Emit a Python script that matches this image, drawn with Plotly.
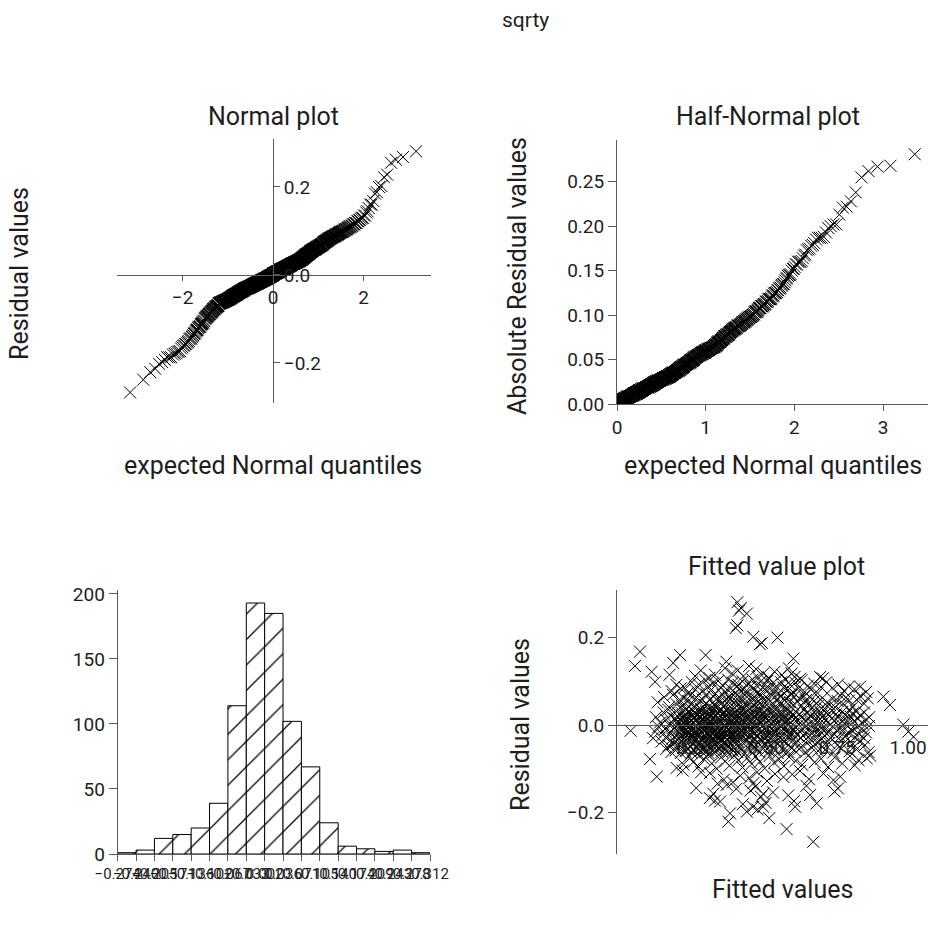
import plotly.graph_objects as go
from statistics import NormalDist

# ---------------- data ----------------
main_title = "sqrty"

# observations: (fitted value, residual) in thousandths, grouped by residual bin
obs_milli = [
    # bin [-0.274,-0.240]
    (666, -267),
    # bin [-0.240,-0.205]
    (572, -238), (367, -221), (511, -213),
    # bin [-0.205,-0.171]
    (373, -202), (432, -198), (454, -187), (489, -187), (602, -187), (678, -179),
    (338, -175), (470, -193), (498, -178), (418, -181), (598, -174), (320, -173),
    # bin [-0.171,-0.136]
    (302, -167), (655, -160), (314, -157), (490, -157), (753, -145), (361, -137),
    (445, -150), (482, -164), (395, -146), (524, -154), (642, -139), (741, -152),
    (254, -144), (578, -161), (462, -141),
    # bin [-0.136,-0.102]
    (737, -126), (302, -110), (115, -118), (206, -104), (351, -125), (383, -131),
    (409, -116), (441, -121), (468, -108), (503, -128), (531, -112), (561, -119),
    (619, -105), (702, -111), (761, -118), (329, -134), (271, -108), (455, -133),
    (651, -124), (592, -113),
    # bin [-0.102,-0.067]
    (91, -78), (185, -98), (825, -80), (854, -76), (209, -90), (228, -72), (243, -85),
    (262, -95), (281, -78), (297, -69), (309, -88), (326, -100), (342, -74), (356, -83),
    (371, -93), (388, -70), (402, -81), (417, -97), (433, -76), (449, -89), (463, -72),
    (478, -84), (495, -99), (512, -71), (528, -86), (546, -78), (563, -94), (581, -73),
    (604, -82), (627, -91), (648, -70), (671, -85), (694, -77), (718, -96), (742, -74),
    (768, -88), (795, -71), (812, -92), (866, -70),
    # bin [-0.067,-0.033]
    (132, -38), (148, -55), (157, -47), (166, -62), (174, -41), (181, -58), (188, -35),
    (193, -50), (171, -44), (199, -64),
    (203, -37), (207, -53), (212, -45), (216, -60), (221, -40), (225, -56), (229, -34),
    (234, -49), (238, -63), (241, -42), (246, -58), (250, -36), (253, -51), (257, -66),
    (262, -44), (266, -39), (270, -59), (273, -47), (277, -35), (281, -54), (285, -61),
    (288, -43), (291, -38), (294, -57), (297, -48), (299, -65),
    (302, -41), (306, -52), (311, -36), (315, -63), (319, -46), (323, -39), (327, -58),
    (332, -44), (336, -53), (340, -35), (344, -61), (348, -49), (352, -40), (357, -56),
    (361, -47), (365, -64), (370, -37), (374, -51), (378, -43), (383, -59), (387, -34),
    (391, -55), (395, -45), (399, -62),
    (403, -39), (409, -50), (414, -57), (420, -42), (426, -65), (431, -36), (437, -53),
    (442, -46), (448, -60), (454, -38), (459, -49), (465, -55), (471, -41), (476, -63),
    (482, -35), (488, -52), (493, -44), (498, -58),
    (504, -37), (511, -60), (518, -45), (526, -53), (533, -39), (541, -64), (548, -48),
    (556, -34), (563, -56), (571, -42), (578, -61), (586, -50), (593, -36), (599, -57),
    (606, -40), (617, -55), (628, -47), (639, -62), (650, -38), (661, -52), (672, -44),
    (683, -59), (692, -35), (699, -49),
    (708, -57), (722, -41), (736, -63), (751, -46), (765, -54), (779, -38), (794, -60),
    (806, -43), (818, -56), (829, -37), (848, -46), (861, -62),
    # bin [-0.033,0.002]
    (23, -13),
    (102, -30), (109, -15), (121, -4), (136, -22), (144, -9), (152, -28), (159, 0),
    (163, -17), (170, -31), (177, -6), (183, -24), (187, -12), (191, 1), (195, -19),
    (198, -27),
    (201, -8), (204, -25), (206, -2), (209, -16), (211, -30), (214, -11), (216, -21),
    (219, 0), (222, -33), (224, -14), (227, -5), (229, -27), (232, -18), (234, -1),
    (237, -23), (239, -10), (242, -31), (244, -7), (247, -20), (249, -13), (252, -29),
    (254, -3), (257, -17), (259, -26), (262, -9), (264, -22), (267, 1), (269, -15),
    (272, -32), (274, -6), (277, -19), (279, -12), (282, -28), (284, -4), (287, -24),
    (289, -8), (292, -16), (294, -30), (296, -2), (299, -21),
    (301, -14), (303, -27), (306, -3), (308, -20), (311, -9), (313, -31), (316, -17),
    (318, 0), (321, -24), (323, -11), (326, -29), (328, -6), (331, -19), (333, -2),
    (336, -26), (338, -13), (341, -32), (343, -8), (346, -22), (348, -15), (351, -1),
    (353, -28), (356, -10), (358, -18), (361, -33), (363, -5), (366, -23), (368, -12),
    (371, -30), (373, -7), (376, -16), (378, -25), (381, -4), (383, -21), (386, -11),
    (388, -28), (391, -1), (393, -19), (396, -9), (398, -24),
    (401, -21), (404, -6), (408, -29), (411, -13), (414, -2), (418, -25), (421, -17),
    (424, -9), (428, -32), (431, -4), (434, -19), (438, -27), (441, -11), (444, 0),
    (448, -23), (451, -15), (454, -7), (458, -30), (461, -18), (464, -3), (468, -26),
    (471, -12), (474, -20), (478, -8), (481, -31), (484, -16), (488, -1), (491, -24),
    (494, -10), (498, -28),
    (502, -12), (506, -26), (510, -4), (514, -19), (518, -31), (522, -8), (526, -22),
    (530, -15), (534, 0), (538, -28), (542, -10), (546, -18), (550, -3), (554, -24),
    (558, -33), (562, -7), (566, -20), (570, -13), (574, -29), (578, -1), (582, -17),
    (586, -25), (590, -6), (594, -21), (598, -11),
    (604, -5), (610, -23), (617, -14), (623, -30), (629, -9), (636, -19), (642, -2),
    (648, -27), (655, -12), (661, -20), (667, -32), (673, -7), (680, -16), (686, -25),
    (692, -3), (697, -18), (699, -11),
    (705, -24), (712, -8), (719, -17), (727, -29), (734, -3), (741, -21), (748, -12),
    (755, -31), (762, -6), (769, -15), (777, -26), (784, -1), (791, -19), (798, -10),
    (804, -13), (812, -28), (820, -5), (828, -21), (836, -9), (844, -30), (852, -17),
    (862, -2),
    (983, 1), (1001, -15), (1019, -27),
    # bin [0.002,0.036]
    (112, 18), (127, 6), (139, 29), (148, 12), (156, 35), (163, 22), (171, 4), (178, 15),
    (184, 31), (189, 9), (194, 25), (198, 14),
    (201, 11), (204, 27), (207, 5), (209, 19), (212, 33), (215, 8), (217, 23), (220, 14),
    (223, 3), (225, 30), (228, 17), (231, 7), (233, 26), (236, 12), (239, 35), (241, 21),
    (244, 4), (247, 16), (249, 29), (252, 9), (255, 24), (257, 13), (260, 32), (263, 6),
    (265, 20), (268, 28), (271, 10), (273, 34), (276, 15), (279, 3), (281, 25), (284, 18),
    (287, 8), (289, 31), (292, 13), (295, 22), (297, 5), (299, 27),
    (301, 20), (304, 7), (306, 31), (309, 14), (312, 4), (314, 25), (317, 17), (320, 35),
    (322, 10), (325, 22), (328, 3), (330, 28), (333, 13), (336, 33), (338, 8), (341, 19),
    (344, 26), (346, 5), (349, 15), (352, 30), (354, 11), (357, 23), (360, 2), (362, 34),
    (365, 18), (368, 9), (370, 27), (373, 6), (376, 21), (378, 32), (381, 12), (384, 24),
    (386, 4), (389, 16), (392, 29), (394, 10), (397, 35), (399, 19),
    (402, 16), (405, 29), (408, 5), (412, 22), (415, 12), (418, 34), (422, 8), (425, 25),
    (428, 18), (432, 3), (435, 31), (438, 14), (442, 21), (445, 7), (448, 27), (452, 11),
    (455, 35), (458, 19), (462, 4), (465, 24), (468, 15), (472, 30), (475, 9), (478, 20),
    (482, 33), (485, 6), (488, 26), (492, 13), (495, 28), (498, 17),
    (503, 24), (507, 9), (511, 32), (515, 15), (519, 4), (523, 27), (527, 19), (531, 12),
    (535, 35), (539, 6), (543, 22), (547, 29), (551, 14), (555, 3), (559, 26), (563, 17),
    (567, 33), (571, 8), (575, 21), (579, 11), (583, 30), (587, 5), (591, 18), (595, 25),
    (599, 13),
    (603, 31), (609, 12), (615, 24), (621, 5), (627, 19), (633, 34), (639, 9), (645, 27),
    (651, 15), (657, 22), (663, 3), (669, 29), (675, 17), (681, 8), (687, 33), (691, 13),
    (695, 26), (699, 20),
    (704, 14), (711, 28), (718, 6), (725, 21), (732, 33), (739, 10), (746, 25), (753, 17),
    (760, 4), (767, 30), (774, 12), (781, 23), (788, 8), (793, 35), (798, 19),
    (803, 26), (810, 9), (817, 31), (824, 15), (831, 22), (838, 4), (845, 29), (853, 12),
    (863, 18),
    # bin [0.036,0.071]
    (118, 52), (141, 64), (158, 41), (172, 69), (186, 47), (196, 58),
    (204, 44), (211, 61), (219, 38), (226, 55), (233, 67), (241, 49), (248, 40), (255, 63),
    (262, 53), (270, 37), (277, 58), (284, 46), (291, 70), (298, 42),
    (302, 57), (308, 39), (313, 66), (319, 48), (324, 41), (330, 62), (335, 53), (341, 37),
    (347, 70), (352, 45), (358, 59), (363, 50), (369, 64), (374, 42), (380, 55), (385, 68),
    (391, 47), (397, 60),
    (403, 49), (408, 63), (414, 40), (419, 56), (425, 69), (430, 44), (436, 52), (441, 38),
    (447, 65), (452, 58), (458, 46), (463, 61), (469, 37), (474, 54), (480, 67), (485, 43),
    (491, 59), (497, 50),
    (503, 62), (509, 41), (515, 55), (521, 68), (527, 47), (534, 38), (540, 60), (546, 51),
    (552, 66), (558, 44), (564, 57), (571, 39), (577, 64), (583, 53), (590, 70), (596, 46),
    (604, 69), (611, 53), (618, 61), (625, 44), (633, 66), (640, 57), (647, 48), (655, 63),
    (662, 40), (669, 55), (677, 50), (684, 45), (692, 58),
    (706, 38), (715, 52), (724, 46), (734, 60), (743, 41), (752, 55), (762, 67), (771, 49),
    (781, 63), (792, 56),
    (806, 42), (819, 58), (832, 66), (845, 49), (858, 61),
    (913, 65), (936, 46),
    # bin [0.071,0.105]
    (109, 99), (167, 78), (184, 92), (199, 84),
    (212, 86), (226, 74), (239, 98), (251, 81), (263, 93), (274, 77), (286, 103), (297, 88),
    (304, 79), (313, 95), (322, 72), (331, 101), (340, 85), (348, 90), (357, 76), (366, 104),
    (375, 83), (383, 97), (391, 74), (398, 89),
    (403, 92), (410, 78), (417, 100), (424, 84), (431, 73), (438, 96), (445, 88), (452, 104),
    (459, 80), (466, 91), (473, 75), (480, 99), (487, 86), (495, 82),
    (504, 101), (512, 83), (520, 94), (528, 77), (536, 89), (545, 72), (553, 98), (561, 86),
    (569, 104), (577, 80), (585, 92), (594, 76),
    (603, 97), (614, 84), (625, 103), (636, 76), (647, 90), (658, 81), (669, 95), (681, 73),
    (693, 87),
    (712, 98), (733, 85), (754, 93), (774, 78), (791, 88),
    (811, 82), (831, 88), (852, 76),
    # bin [0.105,0.140]
    (38, 135), (97, 122), (690, 110), (355, 130), (380, 118), (400, 125), (420, 112),
    (440, 135), (465, 128), (490, 118), (510, 108), (530, 122), (555, 115), (580, 130),
    (600, 110), (620, 106), (250, 112), (270, 125), (300, 108), (320, 115), (470, 110),
    (700, 107), (160, 115), (590, 118),
    # bin [0.140,0.174]
    (56, 168), (197, 160), (287, 160), (173, 142), (596, 152), (360, 145),
    # bin [0.174,0.209]
    (455, 202), (540, 200), (485, 188), (478, 185),
    # bin [0.209,0.243]
    (399, 228), (393, 222),
    # bin [0.243,0.278]
    (411, 268), (432, 255), (405, 262),
    # bin [0.278,0.312]
    (399, 281),
]

# histogram of the residuals as drawn in the reference
hist_edges = [-0.274, -0.2395, -0.2051, -0.1706, -0.1361, -0.1017, -0.0672, -0.0327,
              0.0018, 0.0362, 0.0707, 0.1052, 0.1397, 0.1741, 0.2086, 0.2431, 0.2775, 0.312]
hist_counts = [1, 3, 12, 15, 20, 39, 114, 193, 185, 102, 67, 24, 6, 4, 2, 3, 1]
hist_labels = ["\u22120.274", "\u22120.240", "\u22120.205", "\u22120.171", "\u22120.136",
               "\u22120.102", "\u22120.067", "\u22120.033", "0.002", "0.036", "0.071",
               "0.105", "0.140", "0.174", "0.209", "0.243", "0.278", "0.312"]

qq_xticks = [-2, 0, 2]
qq_yticks = [-0.2, 0.0, 0.2]
hn_xticks = [0, 1, 2, 3]
hn_yticks = [0.0, 0.05, 0.10, 0.15, 0.20, 0.25]
hist_yticks = [0, 50, 100, 150, 200]
fit_xticks = [0.25, 0.50, 0.75, 1.00]
fit_yticks = [-0.2, 0.0, 0.2]

# ---------------- derived series ----------------
fitted = [a / 1000 for a, _ in obs_milli]
resid = [b / 1000 for _, b in obs_milli]
n = len(resid)
nd = NormalDist()
r_sorted = sorted(resid)
qq_x = [nd.inv_cdf((i + 1 - 0.375) / (n + 0.25)) for i in range(n)]
a_sorted = sorted(abs(v) for v in resid)
hn_x = [nd.inv_cdf(0.5 + 0.5 * (i + 1 - 0.375) / (n + 0.25)) for i in range(n)]
hist_centers = [(hist_edges[i] + hist_edges[i + 1]) / 2 for i in range(len(hist_counts))]
hist_width = (hist_edges[-1] - hist_edges[0]) / len(hist_counts)

# ---------------- figure ----------------
W, H = 928, 933
FONT = "Roboto, Liberation Sans, sans-serif"
LINE = "#5a5a5a"
TXT = "#1e1e1e"
TS = 25


def fx(p):
    return p / W


def fy(p):
    return 1 - p / H


mk = dict(symbol="x-thin", size=12, line=dict(width=1, color="black"), color="black")

fig = go.Figure()
fig.add_trace(go.Scatter(x=qq_x, y=r_sorted, mode="markers", marker=mk, xaxis="x", yaxis="y"))
fig.add_trace(go.Scatter(x=hn_x, y=a_sorted, mode="markers", marker=mk, xaxis="x2", yaxis="y2"))
fig.add_trace(go.Bar(x=hist_centers, y=hist_counts, width=hist_width, xaxis="x3", yaxis="y3",
                     marker=dict(color="white", line=dict(color="black", width=1),
                                 pattern=dict(shape="/", fgcolor="black", bgcolor="white",
                                              size=18, solidity=0.07))))
fig.add_trace(go.Scatter(x=fitted, y=resid, mode="markers", marker=mk, xaxis="x4", yaxis="y4"))

ax = dict(showgrid=False, zeroline=False, showline=True, linecolor=LINE, linewidth=1,
          ticks="outside", tickcolor=LINE, ticklen=6, tickwidth=1, automargin=False,
          tickfont=dict(family=FONT, size=19, color=TXT), fixedrange=True)

fig.update_layout(
    template="none",
    width=W, height=H, margin=dict(l=0, r=0, t=0, b=0, pad=0, autoexpand=False),
    paper_bgcolor="white", plot_bgcolor="white", showlegend=False,
    font=dict(family=FONT, color=TXT),
    # Normal plot: axes cross at zero
    xaxis=dict(ax, domain=[fx(117), fx(431)], range=[-3.45, 3.49], anchor="free",
               position=fy(275), tickvals=qq_xticks, ticklen=5),
    yaxis=dict(ax, domain=[fy(403), fy(139)], range=[-0.291, 0.309], anchor="free",
               position=fx(273), side="right", tickvals=qq_yticks, tickformat=".1f"),
    # Half-normal plot
    xaxis2=dict(ax, domain=[fx(617), 1.0], range=[0, 3.506], anchor="y2", tickvals=hn_xticks),
    yaxis2=dict(ax, domain=[fy(404), fy(140)], range=[0, 0.297], anchor="x2",
                tickvals=hn_yticks, tickformat=".2f", ticklen=8),
    # Histogram
    xaxis3=dict(ax, domain=[fx(117.7), fx(430)], range=[hist_edges[0], hist_edges[-1]],
                anchor="y3", tickvals=hist_edges, ticktext=hist_labels,
                tickfont=dict(family=FONT, size=15, color=TXT), tickangle=0),
    yaxis3=dict(ax, domain=[fy(854), fy(590)], range=[0, 203], anchor="x3",
                tickvals=hist_yticks, ticklen=8),
    # Fitted value plot
    xaxis4=dict(ax, domain=[fx(617), 1.0], range=[-0.025, 1.07], anchor="free",
                position=fy(725), tickvals=fit_xticks, tickformat=".2f", ticklen=5),
    yaxis4=dict(ax, domain=[fy(854), fy(590)], range=[-0.295, 0.309], anchor="x4",
                tickvals=fit_yticks, tickformat=".1f", ticklen=8),
)


def label(text, x, y, size=TS, angle=0):
    fig.add_annotation(text=text, x=fx(x), y=fy(y), xref="paper", yref="paper",
                       showarrow=False, textangle=angle, xanchor="center", yanchor="middle",
                       font=dict(family=FONT, size=size, color=TXT))


label(main_title, 525, 20, size=21)
label("Normal plot", 273, 116)
label("Residual values", 19, 274, angle=-90)
label("expected Normal quantiles", 273, 466)
label("Half-Normal plot", 768, 116)
label("Absolute Residual values", 518, 276, angle=-90)
label("expected Normal quantiles", 773, 466)
label("Fitted value plot", 776, 566)
label("Residual values", 520, 725, angle=-90)
label("Fitted values", 782, 889)

fig.write_html("out.html")
